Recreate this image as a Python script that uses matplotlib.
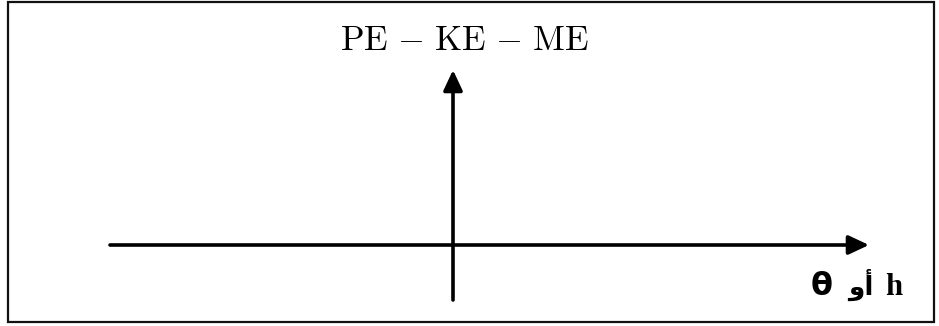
import matplotlib.pyplot as plt
from matplotlib.patches import Rectangle

plt.rcParams['mathtext.fontset'] = 'cm'

# axis labels
title_text = r"$\mathrm{PE}\ {-}\ \mathrm{KE}\ {-}\ \mathrm{ME}$"
label_parts = ["θ", "و" + "أ", "h"]   # visual order, matplotlib has no bidi

# axis extents in pixel units of the sketch
x_axis = (110, 869)
y_axis = (300, 70)
origin = (453, 245)

fig = plt.figure(figsize=(9.39, 3.26), dpi=100)
ax = fig.add_axes([0, 0, 1, 1])
ax.set_xlim(0, 939)
ax.set_ylim(326, 0)
ax.axis('off')

# frame
ax.add_patch(Rectangle((7.5, 2), 926, 319.5, fill=False, lw=1.6, ec='#111111'))

arrow = dict(arrowstyle='-|>,head_length=0.62,head_width=0.29', mutation_scale=20,
             lw=2.6, color='black', shrinkA=0, shrinkB=0)
ax.annotate('', xy=(x_axis[1], origin[1]), xytext=(x_axis[0], origin[1]), arrowprops=arrow)
ax.annotate('', xy=(origin[0], y_axis[1]), xytext=(origin[0], y_axis[0]), arrowprops=arrow)

ax.text(464, 40, title_text, fontsize=25, ha='center', va='center')

# "h أو θ" label, one piece at a time
ax.text(822, 295, label_parts[0], fontsize=23, fontweight='bold', ha='center',
        va='baseline', family='DejaVu Sans')
ax.text(861, 295, label_parts[1], fontsize=19, fontweight='bold', ha='center',
        va='baseline', family='DejaVu Sans')
ax.text(902, 295, label_parts[2], fontsize=22, fontweight='bold', ha='right',
        va='baseline', family='Liberation Serif')

fig.savefig('out.png', dpi=100)
